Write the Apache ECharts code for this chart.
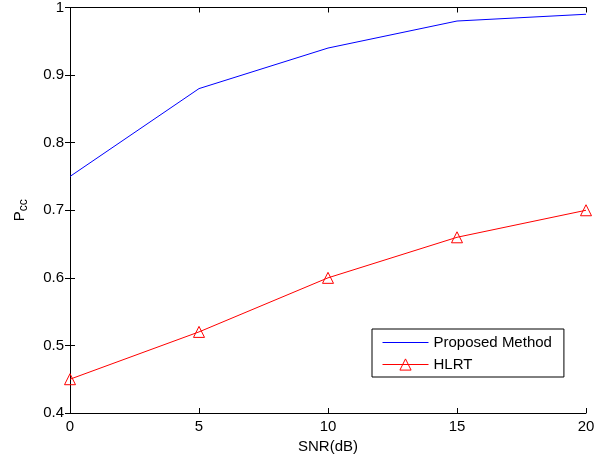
<!DOCTYPE html>
<html><head><meta charset="utf-8">
<script src="https://cdn.jsdelivr.net/npm/echarts@6/dist/echarts.min.js"></script>
<style>html,body{margin:0;padding:0;background:#fff}#c{width:613px;height:459px}</style>
</head><body><div id="c"></div>
<script>
var snr = [0, 5, 10, 15, 20];
var proposed = [0.75, 0.88, 0.94, 0.98, 0.99];
var hlrt = [0.45, 0.52, 0.60, 0.66, 0.70];
var font = 'Liberation Sans, Arial, sans-serif';
var chart = echarts.init(document.getElementById('c'));
var axLine = {show: true, lineStyle: {color: '#000', width: 1}};
var tick = {show: true, inside: true, length: 5, lineStyle: {color: '#000'}};
chart.setOption({
  animation: false,
  backgroundColor: '#fff',
  grid: {left: 70, right: 27, top: 6, bottom: 46},
  xAxis: [{
    type: 'value', min: 0, max: 20, interval: 5,
    axisLine: axLine, axisTick: tick, splitLine: {show: false},
    axisLabel: {color: '#000', fontFamily: font, fontSize: 15, margin: 6},
    name: 'SNR(dB)', nameLocation: 'middle', nameGap: 21,
    nameTextStyle: {color: '#000', fontFamily: font, fontSize: 15}
  }, {
    type: 'value', min: 0, max: 20, interval: 5, position: 'top',
    axisLine: axLine, axisTick: tick, axisLabel: {show: false}, splitLine: {show: false}
  }],
  yAxis: [{
    type: 'value', min: 0.4, max: 1, interval: 0.1,
    axisLine: axLine, axisTick: tick, splitLine: {show: false},
    axisLabel: {color: '#000', fontFamily: font, fontSize: 15, margin: 6,
      formatter: function (v) { return +v.toFixed(1) + ''; }},
    name: '{p|P}{s|cc}', nameLocation: 'middle', nameGap: 40, nameRotate: 90,
    nameTextStyle: {color: '#000', fontFamily: font, fontSize: 15,
      rich: {p: {fontSize: 15, fontFamily: font, color: '#000', verticalAlign: 'top'},
             s: {fontSize: 12, fontFamily: font, color: '#000', verticalAlign: 'bottom', padding: [6, 0, 0, 0]}}}
  }, {
    type: 'value', min: 0.4, max: 1, interval: 0.1, position: 'right',
    axisLine: axLine, axisTick: tick, axisLabel: {show: false}, splitLine: {show: false}
  }],
  legend: {
    left: 372, top: 329, orient: 'vertical',
    backgroundColor: '#fff', borderColor: '#000', borderWidth: 1,
    padding: [6, 12, 5, 10], itemGap: 7, itemWidth: 46, itemHeight: 14,
    lineStyle: {width: 1},
    textStyle: {color: '#000', fontFamily: font, fontSize: 15},
    data: [
      {name: 'Proposed Method', itemStyle: {opacity: 0}},
      {name: 'HLRT', itemStyle: {color: 'transparent', borderColor: '#ff0000', borderWidth: 1}}
    ]
  },
  series: [{
    name: 'Proposed Method', type: 'line',
    data: snr.map(function (x, i) { return [x, proposed[i]]; }),
    showSymbol: false, symbol: 'none',
    lineStyle: {color: '#0000ff', width: 1}, itemStyle: {color: '#0000ff'}
  }, {
    name: 'HLRT', type: 'line',
    data: snr.map(function (x, i) { return [x, hlrt[i]]; }),
    symbol: 'triangle', symbolSize: 11,
    lineStyle: {color: '#ff0000', width: 1},
    itemStyle: {color: 'transparent', borderColor: '#ff0000', borderWidth: 1}
  }]
});
</script></body></html>
